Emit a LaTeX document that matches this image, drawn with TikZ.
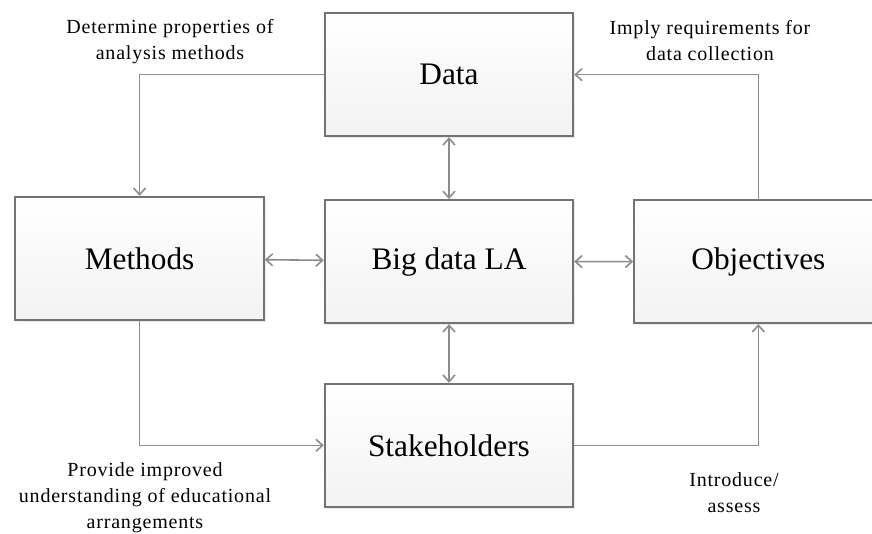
\documentclass[tikz,border=0pt]{standalone}
\usepackage{fontspec}
\setmainfont{Liberation Serif}
\usepackage{tikz}
\usetikzlibrary{matrix,arrows.meta,shadows}
\newcommand{\lblfont}{\fontsize{15}{19.5}\selectfont\addfontfeatures{LetterSpace=4}}

\begin{document}
\begin{tikzpicture}[x=0.75pt,y=-0.75pt,
    >={Straight Barb[length=5pt,width=9pt]},
    conn/.style={draw=black!45,line width=1.2pt},
    note/.style={align=center,font=\lblfont,inner sep=0pt}]
      \useasboundingbox (0,0) rectangle (872,534);
      \matrix[matrix of nodes,column sep=44.25pt,row sep=44pt,
        nodes={draw=black!55,line width=1.3pt,minimum width=186.5pt,minimum height=92.5pt,
        top color=white,bottom color=black!5,font=\fontsize{23.5}{27}\selectfont,
        drop shadow={shadow xshift=1.2pt,shadow yshift=-1.2pt,opacity=0.15}}]
        at (449,260) {
           & |(data)| Data & \\
          |(meth)| Methods & |(big)| Big data LA & |(obj)| Objectives \\
           & |(stake)| Stakeholders & \\
      };
      \path[conn,<->]
      (data) edge (big)
      (meth) edge (big)
      (big)  edge (obj)
      (big)  edge (stake)
      ;
      \draw[conn,->] (data.west) -| (meth.north);
      \draw[conn,->] (obj.north) |- (data.east);
      \draw[conn,->] (meth.south) |- (stake.west);
      \draw[conn,->] (stake.east) -| (obj.south);
      % edge texts
      \node[note] (ldet) at (170,42) {Determine properties of\\analysis methods};
      \node[note] (limp) at (710,41) {Imply requirements for\\data collection};
      \node[note] (lpro) at (145,498) {Provide improved\\understanding of educational\\arrangements};
      \node[note] (lint) at (734,493) {Introduce/\\assess};
    \end{tikzpicture}
\end{document}
